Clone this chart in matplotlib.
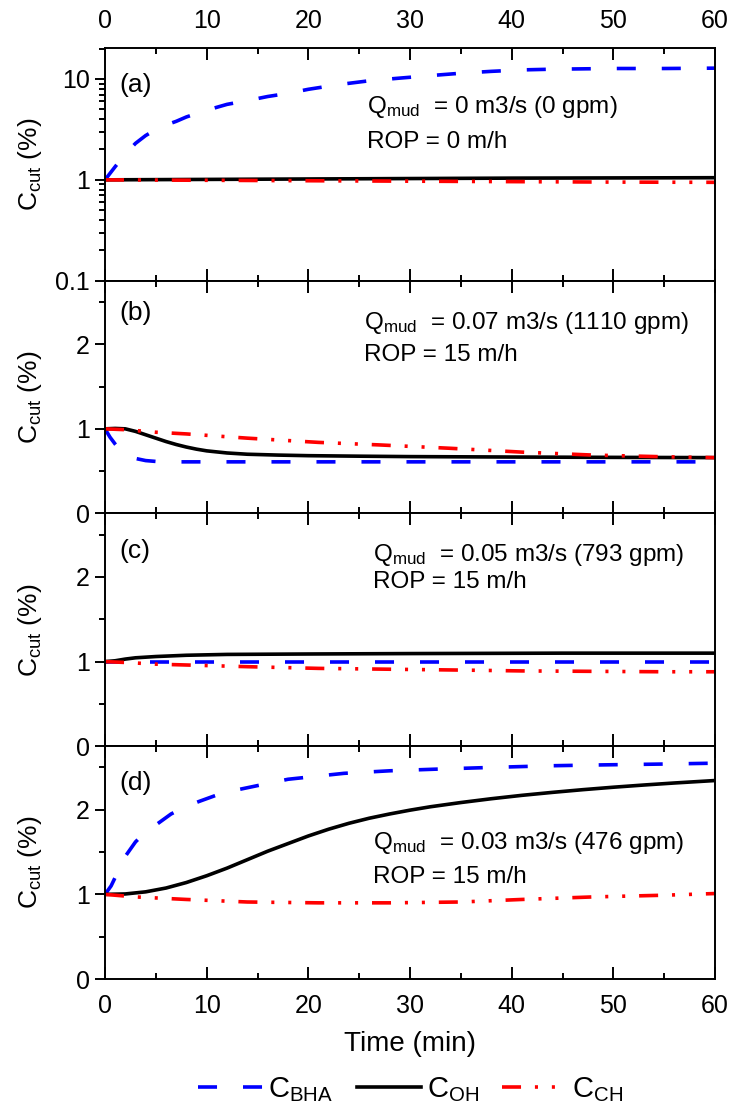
import matplotlib
matplotlib.use("Agg")
import matplotlib.pyplot as plt
from matplotlib.ticker import MultipleLocator, LogLocator, FixedLocator, FuncFormatter, NullFormatter

plt.rcParams["font.family"] = ["Liberation Sans", "DejaVu Sans"]
plt.rcParams["mathtext.fontset"] = "custom"
plt.rcParams["mathtext.rm"] = "Liberation Sans"
plt.rcParams["mathtext.it"] = "Liberation Sans:italic"
plt.rcParams["mathtext.bf"] = "Liberation Sans:bold"
plt.rcParams["lines.scale_dashes"] = False

# ---- data: cuttings concentration (%) versus time (min) ----
# (a) Q = 0 m3/s, ROP = 0 m/h  (log scale)
t_a_bha = [0, 1, 2, 3, 4, 5, 6, 7, 8, 10, 12, 14, 16, 18, 20, 23, 26, 29, 32, 35, 38, 41, 44, 47, 50, 55, 60]
c_a_bha = [1.0, 1.35, 1.8, 2.3, 2.75, 3.15, 3.5, 3.8, 4.2, 4.9, 5.6, 6.1, 6.7, 7.2, 7.9, 8.8, 9.6, 10.2,
           10.8, 11.4, 11.9, 12.3, 12.5, 12.6, 12.7, 12.7, 12.8]
t_a_oh = [0, 10, 20, 30, 40, 50, 60]
c_a_oh = [1.0, 1.01, 1.02, 1.03, 1.04, 1.045, 1.05]
t_a_ch = [0, 10, 20, 30, 40, 50, 60]
c_a_ch = [1.0, 0.99, 0.98, 0.97, 0.96, 0.95, 0.945]

# (b) Q = 0.07 m3/s, ROP = 15 m/h
t_b_bha = [0, 0.5, 1, 1.5, 2, 3, 4, 5, 7, 60]
c_b_bha = [1.0, 0.9, 0.82, 0.75, 0.70, 0.65, 0.625, 0.615, 0.61, 0.61]
t_b_oh = [0, 1, 2, 3, 4, 5, 6, 7, 8, 9, 10, 12, 14, 17, 20, 25, 30, 40, 50, 60]
c_b_oh = [1.0, 1.005, 1.0, 0.97, 0.93, 0.89, 0.85, 0.815, 0.785, 0.76, 0.74, 0.715, 0.70, 0.69,
          0.683, 0.677, 0.672, 0.667, 0.663, 0.66]
t_b_ch = [0, 2, 5, 8, 14, 21, 27, 34, 41, 48, 55, 60]
c_b_ch = [1.0, 0.99, 0.96, 0.94, 0.89, 0.84, 0.81, 0.77, 0.725, 0.69, 0.67, 0.66]

# (c) Q = 0.05 m3/s, ROP = 15 m/h
t_c_bha = [0, 60]
c_c_bha = [1.0, 1.0]
t_c_oh = [0, 1, 2, 3, 5, 8, 12, 20, 30, 45, 60]
c_c_oh = [1.0, 1.01, 1.03, 1.045, 1.06, 1.075, 1.085, 1.09, 1.095, 1.1, 1.1]
t_c_ch = [0, 2, 5, 8, 14, 21, 28, 35, 41, 48, 55, 60]
c_c_ch = [1.0, 0.99, 0.97, 0.96, 0.94, 0.92, 0.91, 0.90, 0.89, 0.885, 0.88, 0.88]

# (d) Q = 0.03 m3/s, ROP = 15 m/h
t_d_bha = [0, 0.6, 1, 2, 3, 4, 5, 6.5, 8, 9.3, 11.6, 14, 18, 23.5, 28, 32.7, 38, 44, 49, 55, 60]
c_d_bha = [1.0, 1.1, 1.2, 1.45, 1.62, 1.74, 1.82, 1.95, 2.04, 2.10, 2.2, 2.26, 2.36, 2.43, 2.46,
           2.48, 2.50, 2.52, 2.53, 2.54, 2.55]
t_d_oh = [0, 2, 4, 6, 8, 10, 12, 14, 16, 18, 20, 22, 24, 26, 28, 30, 32, 35, 38, 41, 44, 47, 50,
          53, 56, 60]
c_d_oh = [1.0, 1.005, 1.03, 1.075, 1.14, 1.22, 1.31, 1.41, 1.51, 1.60, 1.69, 1.77, 1.84, 1.90,
          1.95, 1.995, 2.035, 2.085, 2.13, 2.17, 2.205, 2.237, 2.266, 2.292, 2.316, 2.345]
t_d_ch = [0, 3, 8, 14, 21, 28, 35, 41, 48, 55, 60]
c_d_ch = [1.0, 0.97, 0.94, 0.91, 0.90, 0.90, 0.91, 0.94, 0.97, 0.99, 1.01]

panel_tags = ["(a)", "(b)", "(c)", "(d)"]
flow_texts = ["0 m3/s (0 gpm)", "0.07 m3/s (1110 gpm)", "0.05 m3/s (793 gpm)", "0.03 m3/s (476 gpm)"]
rop_texts = ["0 m/h", "15 m/h", "15 m/h", "15 m/h"]
series_names = ["BHA", "OH", "CH"]

panels = [
    [(t_a_bha, c_a_bha), (t_a_oh, c_a_oh), (t_a_ch, c_a_ch)],
    [(t_b_bha, c_b_bha), (t_b_oh, c_b_oh), (t_b_ch, c_b_ch)],
    [(t_c_bha, c_c_bha), (t_c_oh, c_c_oh), (t_c_ch, c_c_ch)],
    [(t_d_bha, c_d_bha), (t_d_oh, c_d_oh), (t_d_ch, c_d_ch)],
]

# ---- styling ----
LW = 2.6
styles = [
    dict(color="#0000FF", lw=LW, dashes=(13.7, 18.7)),
    dict(color="black", lw=LW, linestyle="-"),
    dict(color="#FF0000", lw=LW, dashes=(13.7, 10, 2.2, 10, 2.2, 10)),
]

fig = plt.figure(figsize=(7.29, 11.10), dpi=100)
left, width = 105 / 729, 610 / 729
bottom0, h = 0.118, 0.2097

# text positions (axes fraction) for each panel
q_pos = [(0.43, 0.745), (0.425, 0.82), (0.44, 0.82), (0.44, 0.585)]
r_pos = [(0.43, 0.595), (0.425, 0.68), (0.44, 0.705), (0.44, 0.44)]
tag_pos = [(0.024, 0.84), (0.024, 0.86), (0.024, 0.84), (0.024, 0.84)]

axes = []
handles = None
for i in range(4):
    ax = fig.add_axes([left, bottom0 + (3 - i) * h, width, h])
    axes.append(ax)
    hs = []
    for (tt, cc), st in zip(panels[i], styles):
        ln, = ax.plot(tt, cc, **st)
        hs.append(ln)
    if handles is None:
        handles = hs

    ax.set_xlim(0, 60)
    ax.xaxis.set_major_locator(MultipleLocator(10))
    ax.xaxis.set_minor_locator(MultipleLocator(5))
    ax.tick_params(axis="x", which="both", direction="in", top=True, bottom=True,
                   labelsize=18, pad=11, width=1.4)
    ax.tick_params(axis="x", which="major", length=8.5)
    ax.tick_params(axis="x", which="minor", length=4.5)
    ax.tick_params(axis="y", which="both", direction="out", right=False, labelsize=18,
                   pad=4, width=1.4)
    ax.tick_params(axis="y", which="major", length=7)
    ax.tick_params(axis="y", which="minor", length=4)

    if i == 0:
        ax.set_yscale("log")
        ax.set_ylim(0.1, 20.3)
        ax.yaxis.set_major_locator(FixedLocator([0.1, 1, 10]))
        ax.yaxis.set_major_formatter(FuncFormatter(lambda v, p: f"{v:g}"))
        ax.yaxis.set_minor_locator(LogLocator(base=10, subs=range(2, 10)))
        ax.yaxis.set_minor_formatter(NullFormatter())
        ax.tick_params(axis="x", labeltop=True, labelbottom=False)
    else:
        ax.set_ylim(0, 2.75)
        ax.yaxis.set_major_locator(MultipleLocator(1))
        ax.yaxis.set_minor_locator(MultipleLocator(0.5))
        ax.tick_params(axis="x", labeltop=False, labelbottom=(i == 3))

    for sp in ax.spines.values():
        sp.set_linewidth(1.4)

    ax.set_ylabel(r"C$_{\mathrm{cut}}$ (%)", fontsize=19)
    ax.yaxis.set_label_coords(-0.1, 0.5)

    ax.text(*tag_pos[i], panel_tags[i], transform=ax.transAxes, fontsize=19,
            ha="left", va="center")
    ax.text(*q_pos[i], r"Q$_{\mathrm{mud}}$  = " + flow_texts[i], transform=ax.transAxes,
            fontsize=17.5, ha="left", va="center")
    ax.text(*r_pos[i], "ROP = " + rop_texts[i], transform=ax.transAxes,
            fontsize=17.5, ha="left", va="center")

axes[-1].set_xlabel("Time (min)", fontsize=20)
axes[-1].xaxis.set_label_coords(0.5, -0.225)

fig.legend(handles, [rf"C$_{{\mathrm{{{n}}}}}$" for n in series_names],
           loc="center", bbox_to_anchor=(411 / 729, 1 - 1090 / 1110), ncol=3,
           frameon=False, fontsize=21, handlelength=2.2, handletextpad=0.2,
           columnspacing=0.8)

fig.savefig("out.png", dpi=100)
